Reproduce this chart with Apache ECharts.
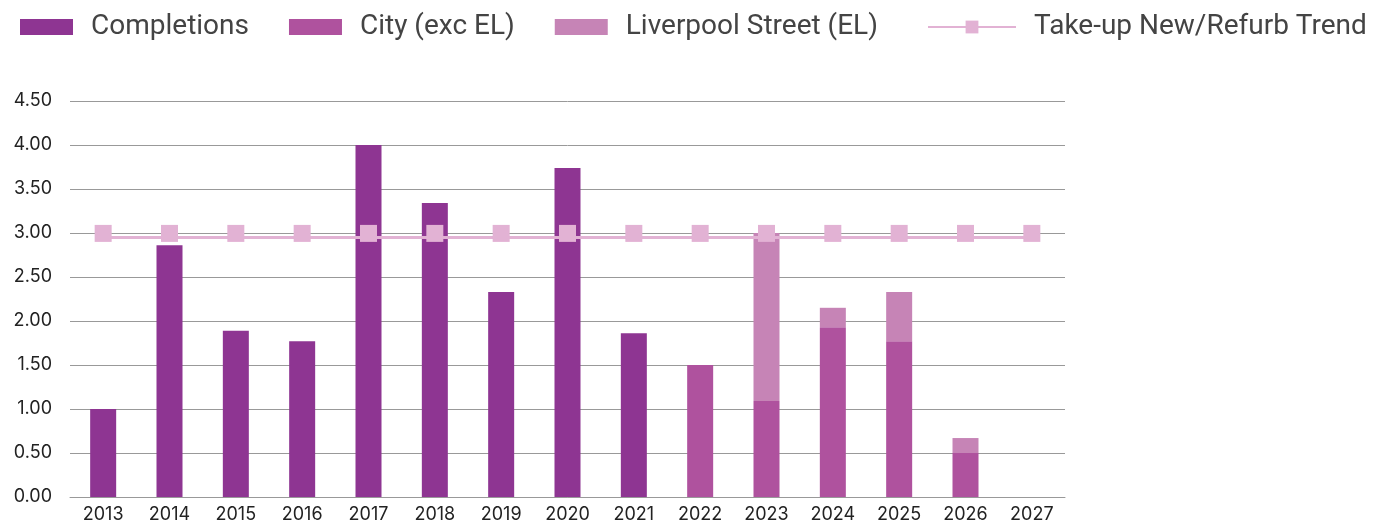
<!DOCTYPE html>
<html>
<head>
<meta charset="utf-8">
<script src="https://cdn.jsdelivr.net/npm/echarts@6/dist/echarts.min.js"></script>
<style>
  html, body { margin: 0; padding: 0; background: #fff; }
  #chart { width: 1377px; height: 524px; }
</style>
</head>
<body>
<div id="chart"></div>
<script>
// categories and values
var years = ['2013','2014','2015','2016','2017','2018','2019','2020','2021','2022','2023','2024','2025','2026','2027'];
var completions = [1.00, 2.86, 1.89, 1.77, 4.00, 3.34, 2.33, 3.74, 1.86, null, null, null, null, null, null];
var cityExcEL = [null, null, null, null, null, null, null, null, null, 1.50, 1.09, 1.93, 1.77, 0.50, null];
var liverpoolSt = [null, null, null, null, null, null, null, null, null, null, 1.91, 0.22, 0.56, 0.17, null];
var trend = [2.95, 2.95, 2.95, 2.95, 2.95, 2.95, 2.95, 2.95, 2.95, 2.95, 2.95, 2.95, 2.95, 2.95, 2.95];

var chart = echarts.init(document.getElementById('chart'));

var legendText = { fontFamily: 'Roboto', fontSize: 28, color: '#444', padding: [0, 0, 0, 13] };

var option = {
  animation: false,
  legend: [
    {
      left: 15,
      top: 8,
      itemWidth: 53,
      itemHeight: 16,
      itemGap: 40,
      icon: 'rect',
      textStyle: legendText,
      data: ['Completions', 'City (exc EL)', 'Liverpool Street (EL)']
    },
    {
      left: 922,
      top: 8,
      itemWidth: 88,
      itemHeight: 16,
      textStyle: legendText,
      data: ['Take-up New/Refurb Trend']
    }
  ],
  grid: { left: 70, right: 312, top: 101, bottom: 27 },
  xAxis: {
    type: 'category',
    data: years,
    axisTick: { show: false },
    axisLine: { lineStyle: { color: '#999', width: 1 } },
    axisLabel: { fontFamily: 'Inter', fontSize: 18, color: '#222', margin: 9 }
  },
  yAxis: {
    type: 'value',
    min: 0,
    max: 4.5,
    interval: 0.5,
    axisLabel: {
      fontFamily: 'Inter', fontSize: 18, color: '#222', margin: 18,
      formatter: function (v) { return v.toFixed(2); }
    },
    splitLine: { lineStyle: { color: '#999', width: 1 } }
  },
  series: [
    {
      name: 'Completions', type: 'bar', stack: 'total', barWidth: 26,
      itemStyle: { color: '#8E3592' },
      data: completions
    },
    {
      name: 'City (exc EL)', type: 'bar', stack: 'total', barWidth: 26,
      itemStyle: { color: '#AF529E' },
      data: cityExcEL
    },
    {
      name: 'Liverpool Street (EL)', type: 'bar', stack: 'total', barWidth: 26,
      itemStyle: { color: '#C684B6' },
      data: liverpoolSt
    },
    {
      name: 'Take-up New/Refurb Trend', type: 'line',
      symbol: 'rect', symbolSize: 17, symbolOffset: [0, -4],
      lineStyle: { color: '#E2B2D4', width: 3 },
      itemStyle: { color: '#E2B2D4' },
      z: 5,
      data: trend
    }
  ]
};

chart.setOption(option);
</script>
</body>
</html>
